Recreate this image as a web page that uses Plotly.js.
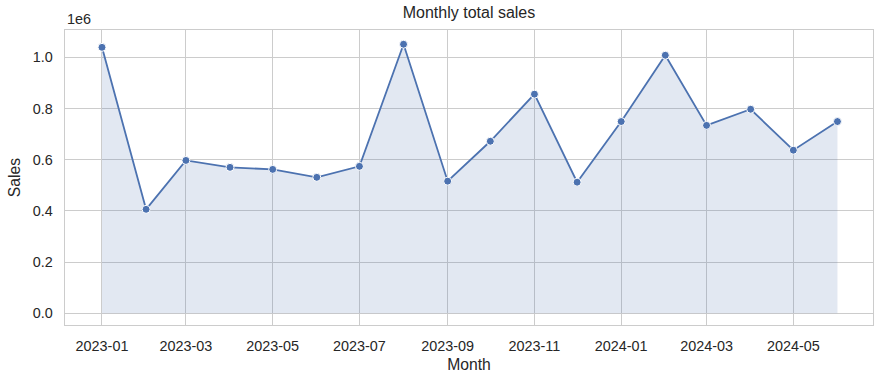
<!DOCTYPE html>
<html>
<head>
<meta charset="utf-8">
<script src="https://cdn.plot.ly/plotly-3.0.1.min.js"></script>
<style>html,body{margin:0;padding:0;background:#fff;}#chart{width:884px;height:384px;}</style>
</head>
<body>
<div id="chart"></div>
<script>
const months = ["2023-01-01","2023-02-01","2023-03-01","2023-04-01","2023-05-01","2023-06-01","2023-07-01","2023-08-01","2023-09-01","2023-10-01","2023-11-01","2023-12-01","2024-01-01","2024-02-01","2024-03-01","2024-04-01","2024-05-01","2024-06-01"];
const sales = [1039000,406000,597000,570000,562000,531000,574000,1051000,516000,672000,856000,512000,749000,1008000,734000,797000,637000,749000];
const xTickVals = ["2023-01-01","2023-03-01","2023-05-01","2023-07-01","2023-09-01","2023-11-01","2024-01-01","2024-03-01","2024-05-01"];
const xTickText = ["2023-01","2023-03","2023-05","2023-07","2023-09","2023-11","2024-01","2024-03","2024-05"];
const yTickVals = [0,200000,400000,600000,800000,1000000];
const yTickText = ["0.0","0.2","0.4","0.6","0.8","1.0"];

const font = "Liberation Sans, Arial, sans-serif";
const trace = {
  x: months, y: sales, type: "scatter", mode: "lines+markers",
  fill: "tozeroy", fillcolor: "rgba(76,114,176,0.16)",
  line: {color: "#4c72b0", width: 1.8},
  marker: {color: "#4c72b0", size: 8, line: {color: "#ffffff", width: 1}},
  hoverinfo: "x+y"
};
const layout = {
  width: 884, height: 384,
  margin: {l: 65, r: 11, t: 30, b: 59, pad: 0},
  paper_bgcolor: "#ffffff", plot_bgcolor: "#ffffff",
  showlegend: false,
  font: {family: font, color: "#262626"},
  title: {text: "Monthly total sales", font: {size: 16, color: "#262626"}, x: 0.5, xref: "paper", xanchor: "center", y: 1, yref: "container", yanchor: "top", pad: {t: 7}},
  xaxis: {
    type: "date", range: ["2022-12-06", "2024-06-26"],
    tickvals: xTickVals, ticktext: xTickText,
    tickfont: {size: 14.4, color: "#262626"},
    ticks: "outside", ticklen: 7, tickcolor: "rgba(0,0,0,0)",
    showgrid: true, gridcolor: "#cccccc", gridwidth: 1,
    showline: true, linecolor: "#cccccc", linewidth: 1.4, mirror: true,
    zeroline: false,
    title: {text: "Month", font: {size: 15.7, color: "#262626"}, standoff: 6}
  },
  yaxis: {
    range: [-46000, 1106700],
    tickvals: yTickVals, ticktext: yTickText,
    tickfont: {size: 14.4, color: "#262626"},
    ticks: "outside", ticklen: 8, tickcolor: "rgba(0,0,0,0)",
    showgrid: true, gridcolor: "#cccccc", gridwidth: 1,
    showline: true, linecolor: "#cccccc", linewidth: 1.4, mirror: true,
    zeroline: false,
    title: {text: "Sales", font: {size: 15.7, color: "#262626"}, standoff: 8}
  },
  annotations: [{
    text: "1e6", xref: "paper", yref: "paper", x: 0, y: 1, xanchor: "left", yanchor: "bottom",
    yshift: 1, xshift: 0, showarrow: false, font: {size: 14.4, color: "#262626", family: font}
  }]
};
Plotly.newPlot("chart", [trace], layout, {displayModeBar: false, staticPlot: true});
</script>
</body>
</html>
